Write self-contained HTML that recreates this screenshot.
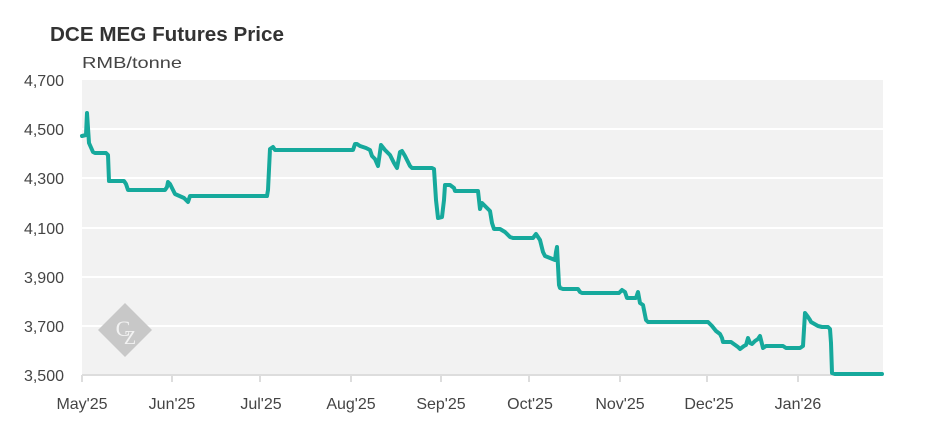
<!DOCTYPE html>
<html><head><meta charset="utf-8"><style>
body{margin:0;background:#fff;}
svg{display:block;font-family:"Liberation Sans",sans-serif;}
</style></head><body>
<svg width="945" height="442" viewBox="0 0 945 442">
<text x="50" y="41" font-size="20" font-weight="bold" fill="#333" textLength="234" lengthAdjust="spacingAndGlyphs">DCE MEG Futures Price</text>
<text x="82" y="68" font-size="16" fill="#444" textLength="100" lengthAdjust="spacingAndGlyphs">RMB/tonne</text>
<rect x="82" y="80" width="801" height="294" fill="#f2f2f2"/>
<g stroke="#fff" stroke-width="2">
<line x1="82" y1="129" x2="883" y2="129"/><line x1="82" y1="178" x2="883" y2="178"/>
<line x1="82" y1="228" x2="883" y2="228"/><line x1="82" y1="277" x2="883" y2="277"/>
<line x1="82" y1="326" x2="883" y2="326"/>
</g>
<line x1="82" y1="375" x2="883" y2="375" stroke="#ddd" stroke-width="2"/>
<g stroke="#ddd" stroke-width="2">
<line x1="82" y1="375" x2="82" y2="382"/><line x1="172" y1="375" x2="172" y2="382"/>
<line x1="260" y1="375" x2="260" y2="382"/><line x1="351" y1="375" x2="351" y2="382"/>
<line x1="441" y1="375" x2="441" y2="382"/><line x1="529" y1="375" x2="529" y2="382"/>
<line x1="620" y1="375" x2="620" y2="382"/><line x1="707" y1="375" x2="707" y2="382"/>
<line x1="798" y1="375" x2="798" y2="382"/>
</g>
<g font-size="16" fill="#444" text-anchor="end">
<text x="64" y="86">4,700</text><text x="64" y="135">4,500</text><text x="64" y="184">4,300</text>
<text x="64" y="234">4,100</text><text x="64" y="283">3,900</text><text x="64" y="332">3,700</text>
<text x="64" y="381">3,500</text>
</g>
<g font-size="16" fill="#444" text-anchor="middle">
<text x="82" y="409">May'25</text><text x="172" y="409">Jun'25</text><text x="261" y="409">Jul'25</text>
<text x="351" y="409">Aug'25</text><text x="441" y="409">Sep'25</text><text x="530" y="409">Oct'25</text>
<text x="620" y="409">Nov'25</text><text x="709" y="409">Dec'25</text><text x="798" y="409">Jan'26</text>
</g>
<g transform="translate(125,330)">
<polygon points="0,-27 27,0 0,27 -27,0" fill="#c8c8c8"/>
<text x="-2" y="6" font-family="Liberation Serif,serif" font-size="22" fill="#f2f2f2" text-anchor="middle">C</text>
<text x="5" y="14" font-family="Liberation Serif,serif" font-size="20" fill="#f2f2f2" text-anchor="middle">Z</text>
</g>
<polyline fill="none" stroke="#16a99c" stroke-width="4" stroke-linejoin="round" stroke-linecap="round" points="82,136 86,135 87,113 89,143 93,152 95,153 106,153 108,155 109,181 110,181 124,181 126,184 128,190 130,190 165,190 167,187 168,182 170,184 175,194 184,198 188,202 190,196 192,196 267,196 268,190 270,149 273,147 275,150 353,150 355,144 357,144 360,146 366,148 370,150 372,156 375,159 378,166 381,145 385,150 390,155 394,163 397,168 400,152 402,151 405,156 410,166 412,168 432,168 434,169 436,200 438,218 442,217 444,200 445,185 450,185 454,188 455,191 478,191 479,200 480,209 482,203 484,205 487,208 490,211 492,223 494,229 497,229 500,229 505,232 510,237 513,238 533,238 536,234 538,237 540,240 543,252 545,256 550,258 555,260 556,252 557,247 559,285 560,288 563,289 578,289 580,292 582,293 619,293 622,290 625,292 627,298 630,298 636,298 638,292 640,303 643,305 646,320 648,322 708,322 712,326 716,331 720,334 722,338 723,342 731,342 738,347 740,349 744,346 746,345 748,338 750,343 752,344 755,341 758,339 760,336 763,348 766,346 783,346 786,348 800,348 803,346 805,313 808,317 810,320 811,322 818,326 822,327 828,327 830,329 831,343 832,373 835,374 882,374"/>
</svg>
</body></html>
